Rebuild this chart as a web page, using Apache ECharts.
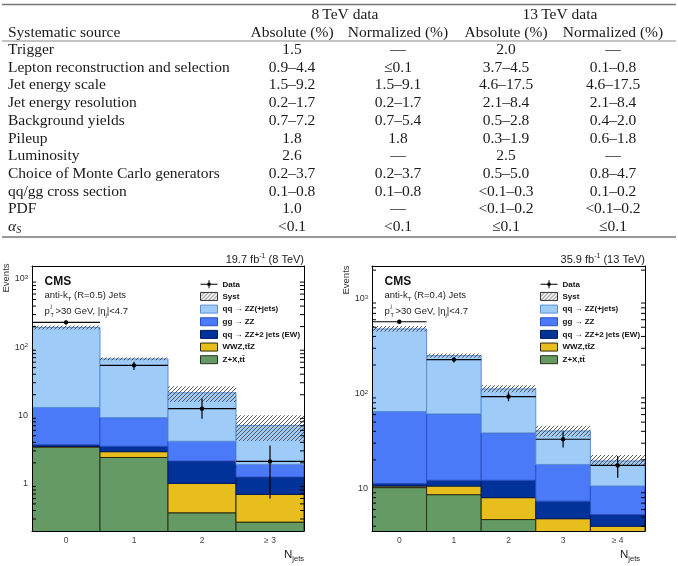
<!DOCTYPE html>
<html>
<head>
<meta charset="utf-8">
<title>ZZ + jets systematics</title>
<script src="https://cdn.jsdelivr.net/npm/echarts@6/dist/echarts.min.js"></script>
<style>
  html, body { margin: 0; padding: 0; background: #fff; }
  #main { width: 678px; height: 566px; }
</style>
</head>
<body>
<div id="main"></div>
<script>
var SANS = '"Liberation Sans", Arial, sans-serif';
var SERIF = '"Liberation Serif", "Times New Roman", serif';

// ---- table ----
var tableHead = ['Systematic source', 'Absolute (%)', 'Normalized (%)', 'Absolute (%)', 'Normalized (%)'];
var tableGroups = ['8\u2009TeV data', '13\u2009TeV data'];
var sources = ['Trigger', 'Lepton reconstruction and selection', 'Jet energy scale', 'Jet energy resolution',
  'Background yields', 'Pileup', 'Luminosity', 'Choice of Monte Carlo generators', 'qq/gg cross section', 'PDF', 'ALPHA_S'];
var abs8 = ['1.5', '0.9\u20134.4', '1.5\u20139.2', '0.2\u20131.7', '0.7\u20137.2', '1.8', '2.6', '0.2\u20133.7', '0.1\u20130.8', '1.0', '<0.1'];
var norm8 = ['\u2014', '\u22640.1', '1.5\u20139.1', '0.2\u20131.7', '0.7\u20135.4', '1.8', '\u2014', '0.2\u20133.7', '0.1\u20130.8', '\u2014', '<0.1'];
var abs13 = ['2.0', '3.7\u20134.5', '4.6\u201317.5', '2.1\u20138.4', '0.5\u20132.8', '0.3\u20131.9', '2.5', '0.5\u20135.0', '<0.1\u20130.3', '<0.1\u20130.2', '\u22640.1'];
var norm13 = ['\u2014', '0.1\u20130.8', '4.6\u201317.5', '2.1\u20138.4', '0.4\u20132.0', '0.6\u20131.8', '\u2014', '0.8\u20134.7', '0.1\u20130.2', '<0.1\u20130.2', '\u22640.1'];

// ---- histograms ----
var bins8 = ['0', '1', '2', '\u2265 3'];
var bins13 = ['0', '1', '2', '3', '\u2265 4'];

// 8 TeV, contribution of each process per bin (stacked bottom to top)
var zx8 = [3.4, 2.4, 0.37, 0.27];
var wwz8 = [0.08, 0.52, 0.63, 0.42];
var ew8 = [0.22, 0.58, 1.13, 0.55];
var gg8 = [9.3, 5.75, 2.02, 0.66];
var qq8 = [182, 57.8, 17.2, 5.2];
var systLo8 = [182, 64.4, 15.7, 4.2];
var systHi8 = [208, 70.6, 26.7, 10.0];
var data8 = [231, 54, 12.5, 2.1];
var dataLo8 = [216, 46, 8.9, 0.6];
var dataHi8 = [246, 61, 17.6, 3.6];

// 13 TeV
var zx13 = [10.2, 8.6, 4.7, 3.0, 2.0];
var wwz13 = [0.4, 2.0, 3.3, 1.8, 2.0];
var ew13 = [0.7, 1.6, 4.2, 2.55, 1.3];
var gg13 = [53.4, 48.8, 26.3, 10.55, 5.3];
var qq13 = [415, 190, 73.5, 22.5, 8.9];
var systLo13 = [450, 238, 103, 35.2, 17.2];
var systHi13 = [515, 264, 122, 45.9, 22.5];
var data13 = [571, 228, 93, 33, 17.5];
var dataLo13 = [547, 213, 83, 27, 13];
var dataHi13 = [595, 243, 103, 40, 22];

var layerNames = ['Z+X,tt\u0304', 'WWZ,tt\u0304Z', 'qq \u2192 ZZ+2 jets (EW)', 'gg \u2192 ZZ', 'qq \u2192 ZZ(+jets)'];
var layerFill = ['#659a64', '#e8be1e', '#00329a', '#4a7af8', '#9ecbf8'];
var layerStroke = ['#26331f', '#2e2a0e', '#001a5c', '#2a50c4', '#5d8fd6'];

// hatch pattern for syst band
var hatch = document.createElement('canvas');
hatch.width = 4; hatch.height = 4;
var hc = hatch.getContext('2d');
hc.strokeStyle = '#4a4a4a';
hc.lineWidth = 0.9;
hc.beginPath();
hc.moveTo(0, 4); hc.lineTo(4, 0);
hc.moveTo(-1, 1); hc.lineTo(1, -1);
hc.moveTo(3, 5); hc.lineTo(5, 3);
hc.stroke();
var hatchFill = {image: hatch, repeat: 'repeat'};

function boxRender(n, stroke) {
  return function (params, api) {
    var w = params.coordSys.width / n;
    var i = api.value(0);
    var p0 = api.coord([i, api.value(1)]);
    var p1 = api.coord([i, api.value(2)]);
    return {
      type: 'rect',
      shape: {x: p1[0] - w / 2, y: p1[1], width: w, height: p0[1] - p1[1]},
      style: {fill: api.visual('color'), stroke: stroke, lineWidth: stroke ? 1 : 0}
    };
  };
}

function dataRender(n) {
  return function (params, api) {
    var w = params.coordSys.width / n;
    var i = api.value(0);
    var c = api.coord([i, api.value(1)]);
    var lo = api.coord([i, api.value(2)]);
    var hi = api.coord([i, api.value(3)]);
    var st = {stroke: '#000', lineWidth: 1.2};
    return {
      type: 'group',
      children: [
        {type: 'line', shape: {x1: c[0] - w / 2, y1: c[1], x2: c[0] + w / 2, y2: c[1]}, style: st},
        {type: 'line', shape: {x1: c[0], y1: lo[1], x2: c[0], y2: hi[1]}, style: st},
        {type: 'circle', shape: {cx: c[0], cy: c[1], r: 2.2}, style: {fill: '#000'}}
      ]
    };
  };
}

function minorRender(params, api) {
  var cs = params.coordSys;
  var y = api.coord([0, api.value(1)])[1];
  var st = {stroke: '#000', lineWidth: 1};
  return {
    type: 'group',
    children: [
      {type: 'line', shape: {x1: cs.x, y1: y, x2: cs.x + 4, y2: y}, style: st},
      {type: 'line', shape: {x1: cs.x + cs.width - 4, y1: y, x2: cs.x + cs.width, y2: y}, style: st}
    ]
  };
}

function minorValues(min, max) {
  var out = [];
  for (var e = -1; e <= 3; e++) {
    for (var m = 2; m <= 9; m++) {
      var v = m * Math.pow(10, e);
      if (v > min && v < max) out.push([0, v]);
    }
  }
  return out;
}

function plotSeries(layers, sLo, sHi, d, dLo, dHi, xi, yi, yMin, yMax) {
  var n = d.length;
  var out = [];
  var cum = d.map(function () { return 0; });
  layers.forEach(function (vals, k) {
    var items = [];
    for (var i = 0; i < n; i++) {
      var lo = cum[i] > 0 ? cum[i] : yMin / 10;
      cum[i] += vals[i];
      items.push([i, lo, cum[i]]);
    }
    out.push({
      type: 'custom', name: layerNames[k], xAxisIndex: xi, yAxisIndex: yi, clip: true, z: 2,
      itemStyle: {color: layerFill[k], borderColor: layerStroke[k]},
      encode: {x: 0, y: [1, 2]},
      renderItem: boxRender(n, layerStroke[k]), data: items
    });
  });
  out.push({
    type: 'custom', name: 'Syst', xAxisIndex: xi, yAxisIndex: yi, clip: true, z: 3,
    itemStyle: {color: hatchFill, borderColor: '#333'},
    encode: {x: 0, y: [1, 2]},
    renderItem: boxRender(n, null),
    data: sLo.map(function (v, i) { return [i, v, sHi[i]]; })
  });
  out.push({
    type: 'custom', name: 'Data', xAxisIndex: xi, yAxisIndex: yi, clip: true, z: 4,
    itemStyle: {color: '#000'},
    encode: {x: 0, y: [1, 2, 3]},
    renderItem: dataRender(n),
    data: d.map(function (v, i) { return [i, v, dLo[i], dHi[i]]; })
  });
  out.push({
    type: 'custom', name: 'minor', xAxisIndex: xi, yAxisIndex: yi, z: 5, silent: true,
    encode: {x: 0, y: 1},
    renderItem: minorRender, data: minorValues(yMin, yMax)
  });
  return out;
}

var yMin8 = 0.2, yMax8 = 1550;
var yMin13 = 3.56, yMax13 = 2210;

function xAxes(grid, cats) {
  var base = {
    type: 'category', gridIndex: grid, data: cats, boundaryGap: true, z: 10,
    axisLine: {lineStyle: {color: '#000', width: 1}},
    axisTick: {inside: true, length: 8, lineStyle: {color: '#000'}},
    splitLine: {show: false}
  };
  return [
    Object.assign({}, base, {position: 'bottom',
      axisLabel: {fontSize: 8.5, color: '#444', margin: 5, fontFamily: SANS}}),
    Object.assign({}, base, {position: 'top', axisLabel: {show: false}})
  ];
}

function yAxes(grid, min, max) {
  var base = {
    type: 'log', gridIndex: grid, min: min, max: max, logBase: 10, z: 10,
    axisLine: {show: true, lineStyle: {color: '#000', width: 1}},
    axisTick: {inside: true, length: 8, lineStyle: {color: '#000'}},
    splitLine: {show: false}
  };
  return [
    Object.assign({}, base, {position: 'left',
      axisLabel: {
        fontSize: 9, color: '#333', margin: 4, fontFamily: SANS,
        showMinLabel: false, showMaxLabel: false,
        formatter: function (v) {
          var e = Math.round(Math.log10(v));
          return e < 2 ? String(Math.round(v)) : '10{s|' + e + '}';
        },
        rich: {s: {fontSize: 6, lineHeight: 7, verticalAlign: 'top', color: '#333', fontFamily: SANS}}
      }}),
    Object.assign({}, base, {position: 'right', axisLabel: {show: false}})
  ];
}

var dataIcon = 'path://M0,3.5H17V4.5H0Z M8,0H9V8H8Z M7,2.5H10V5.5H7Z';
function legendFor(left) {
  return {
    left: left, top: 275.3, orient: 'vertical', itemWidth: 17, itemHeight: 8, itemGap: 3.65,
    selectedMode: false,
    textStyle: {fontSize: 8, fontWeight: 'bold', fontFamily: SANS, color: '#111'},
    itemStyle: {borderWidth: 1},
    data: [
      {name: 'Data', icon: dataIcon, itemStyle: {borderWidth: 0}},
      {name: 'Syst', icon: 'rect'},
      {name: layerNames[4], icon: 'rect'},
      {name: layerNames[3], icon: 'rect'},
      {name: layerNames[2], icon: 'rect'},
      {name: layerNames[1], icon: 'rect'},
      {name: layerNames[0], icon: 'rect'}
    ]
  };
}

// ---- graphic texts ----
var graphics = [];
function addText(x, y, text, o) {
  o = o || {};
  graphics.push({
    type: 'text', x: x, y: y, rotation: o.rot || 0, silent: true, z: 20,
    style: {
      text: text, fill: o.color || '#1a1a1a',
      fontSize: o.size || 10, fontFamily: o.family || SANS,
      fontWeight: o.weight || 'normal', fontStyle: o.italic ? 'italic' : 'normal',
      align: o.align || 'left', textAlign: o.align || 'left',
      verticalAlign: 'middle', textVerticalAlign: 'middle',
      lineHeight: o.lh || undefined, rich: o.rich || undefined
    }
  });
}
function addRule(y, w, color) {
  graphics.push({type: 'line', silent: true, z: 20,
    shape: {x1: 2, y1: y, x2: 676, y2: y}, style: {stroke: color, lineWidth: w}});
}

var colX = [8, 292, 398, 506, 613];
var groupX = [345, 560];
var TS = 15.5;
addRule(4.5, 1.6, '#777');
addText(groupX[0], 15, tableGroups[0], {size: TS, family: SERIF, align: 'center'});
addText(groupX[1], 15, tableGroups[1], {size: TS, family: SERIF, align: 'center'});
tableHead.forEach(function (h, c) {
  addText(colX[c], 32.5, h, {size: TS, family: SERIF, align: c === 0 ? 'left' : 'center'});
});
addRule(41, 1, '#888');
sources.forEach(function (s, r) {
  var y = 50 + r * 17.7;
  if (s === 'ALPHA_S') {
    addText(colX[0], y, '{a|\u03b1}{b|S}', {size: TS, family: SERIF, lh: 16, rich: {
      a: {fontSize: TS, fontFamily: SERIF, fontStyle: 'italic', fill: '#1a1a1a', lineHeight: 16, verticalAlign: 'middle'},
      b: {fontSize: 10, fontFamily: SERIF, fontStyle: 'italic', fill: '#1a1a1a', lineHeight: 8, verticalAlign: 'bottom'}
    }});
  } else {
    addText(colX[0], y, s, {size: TS, family: SERIF});
  }
  [abs8, norm8, abs13, norm13].forEach(function (col, c) {
    addText(colX[c + 1], y, col[r], {size: TS, family: SERIF, align: 'center'});
  });
});
addRule(237, 1.6, '#777');

var subRich = {
  sub: {fontSize: 6, fontFamily: SANS, fill: '#222', lineHeight: 7, verticalAlign: 'bottom'},
  sup: {fontSize: 7, fontFamily: SANS, fill: '#222', lineHeight: 7, verticalAlign: 'top'},
  n: {fontSize: 9.5, fontFamily: SANS, fill: '#222', lineHeight: 14, verticalAlign: 'middle'},
  big: {fontSize: 11, fontFamily: SANS, fill: '#222', lineHeight: 14, verticalAlign: 'middle'},
  N: {fontSize: 11.5, fontFamily: SANS, fill: '#222', lineHeight: 16, verticalAlign: 'middle'},
  jets: {fontSize: 7.5, fontFamily: SANS, fill: '#222', lineHeight: 8, verticalAlign: 'bottom'}
};

function plotTexts(x0, right, lumi, R) {
  addText(x0, 282, 'CMS', {size: 12, weight: 'bold', color: '#111'});
  addText(x0, 295, '{n|anti-k}{sub|T}{n| (R=' + R + ') Jets}', {size: 9.5, lh: 14, rich: subRich});
  addText(x0, 311, 'p', {size: 9.5, color: '#222'});
  addText(x0 + 6, 306.5, 'j', {size: 6, color: '#222'});
  addText(x0 + 6, 315, 'T', {size: 5.5, color: '#222'});
  addText(x0 + 11, 311, '{n|>30 GeV, |\u03b7}{sub|j}{n||<4.7}', {size: 9.5, lh: 14, rich: subRich});
  addText(right, 260, '{big|' + lumi + ' fb}{sup|-1}{big| (' + (R === '0.5' ? '8' : '13') + ' TeV)}',
    {size: 11, lh: 14, align: 'right', rich: subRich});
}
plotTexts(44.5, 304, '19.7', '0.5');
plotTexts(384.5, 645, '35.9', '0.4');
addText(6, 278, 'Events', {size: 9.5, rot: Math.PI / 2, align: 'center', color: '#333'});
addText(346, 280, 'Events', {size: 9.5, rot: Math.PI / 2, align: 'center', color: '#333'});
addText(304, 555, '{N|N}{jets|jets}', {size: 11.5, lh: 16, align: 'right', rich: subRich});
addText(640, 555, '{N|N}{jets|jets}', {size: 11.5, lh: 16, align: 'right', rich: subRich});

var series = []
  .concat(plotSeries([zx8, wwz8, ew8, gg8, qq8], systLo8, systHi8, data8, dataLo8, dataHi8, 0, 0, yMin8, yMax8))
  .concat(plotSeries([zx13, wwz13, ew13, gg13, qq13], systLo13, systHi13, data13, dataLo13, dataHi13, 2, 2, yMin13, yMax13));

var option = {
  animation: false,
  backgroundColor: '#fff',
  textStyle: {fontFamily: SANS},
  grid: [
    {left: 32, top: 266, width: 272, height: 265},
    {left: 372, top: 266, width: 273, height: 265}
  ],
  xAxis: xAxes(0, bins8).concat(xAxes(1, bins13)),
  yAxis: yAxes(0, yMin8, yMax8).concat(yAxes(1, yMin13, yMax13)),
  legend: [legendFor(195), legendFor(535)],
  graphic: {elements: graphics},
  series: series
};

var chart = echarts.init(document.getElementById('main'));
chart.setOption(option);
</script>
</body>
</html>
